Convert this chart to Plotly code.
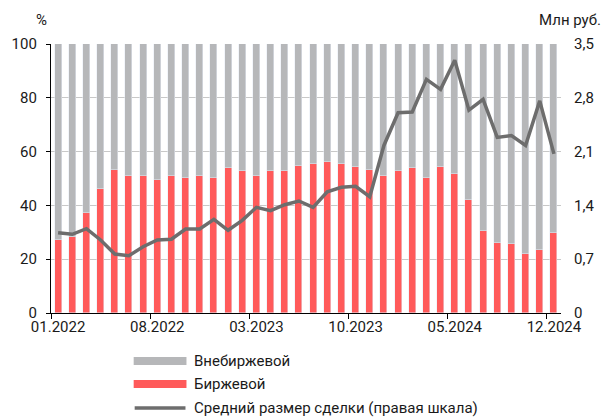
import plotly.graph_objects as go

months = [f"{m:02d}.{y}" for y in (2022, 2023, 2024) for m in range(1, 13)]

exchange = [27.1, 28.1, 37.3, 46.1, 53.2, 51.0, 51.0, 49.4, 50.9, 50.3, 51.0, 50.2,
            54.0, 52.8, 51.0, 52.8, 52.8, 54.8, 55.5, 56.2, 55.5, 54.3, 53.3, 51.0,
            52.9, 53.8, 50.3, 54.4, 51.6, 42.1, 30.6, 26.1, 25.8, 22.1, 23.6, 29.7]
otc = [round(100 - v, 1) for v in exchange]
avg_deal = [1.045, 1.024, 1.097, 0.95, 0.768, 0.746, 0.863, 0.95, 0.959, 1.093, 1.093, 1.219,
            1.076, 1.206, 1.375, 1.331, 1.409, 1.457, 1.375, 1.578, 1.635, 1.648, 1.513, 2.18,
            2.606, 2.615, 3.04, 2.91, 3.29, 2.64, 2.78, 2.285, 2.31, 2.18, 2.76, 2.07]

left_ticks = [0, 20, 40, 60, 80, 100]
right_ticks = [0, 0.7, 1.4, 2.1, 2.8, 3.5]
right_labels = ["0", "0,7", "1,4", "2,1", "2,8", "3,5"]
label_idx = [0, 7, 14, 21, 28, 35]

names = ["Внебиржевой", "Биржевой", "Средний размер сделки (правая шкала)"]
c_otc, c_exch, c_line = "#B6B7B9", "#FF5A5A", "#6D6D6D"

x = list(range(len(months)))
FONT = "Roboto"

W, H = 606, 420
L, R, T, B = 50, 44, 44, 107
PW, PH = W - L - R, H - T - B


def px_x(xp):
    return (xp - L) / PW


def px_y(yp):
    return (H - B - yp) / PH


fig = go.Figure()
fig.add_bar(x=x, y=exchange, name=names[1], marker_color=c_exch, width=0.5, showlegend=False)
fig.add_bar(x=x, y=otc, name=names[0], marker_color=c_otc, width=0.5, showlegend=False)
fig.add_scatter(x=x, y=avg_deal, yaxis="y2", mode="lines", name=names[2],
                line=dict(color=c_line, width=3.5), showlegend=False)

fig.update_layout(
    width=W, height=H,
    margin=dict(l=L, r=R, t=T, b=B),
    barmode="stack", bargap=0,
    plot_bgcolor="white", paper_bgcolor="white",
    font=dict(family=FONT, size=15, color="#1a1a1a"),
    xaxis=dict(range=[-0.5, 35.5], tickvals=label_idx, ticktext=[months[i] for i in label_idx],
               ticks="", showgrid=False, zeroline=False,
               showline=True, linecolor="#000", linewidth=1.2,
               minor=dict(tick0=-0.5, dtick=7, ticks="outside", ticklen=5, tickcolor="#000", showgrid=False),
               tickfont=dict(size=15)),
    yaxis=dict(range=[0, 100], tickvals=left_ticks, showgrid=True, gridcolor="#C8C8C8", gridwidth=1,
               zeroline=False, showline=True, linecolor="#000", linewidth=1.2,
               ticks="outside", ticklen=4, tickcolor="#000", ticklabelstandoff=6,
               tickfont=dict(size=15)),
    yaxis2=dict(range=[0, 3.5], overlaying="y", side="right", tickvals=right_ticks, ticktext=right_labels,
                showgrid=False, zeroline=False, showline=False, ticks="", ticklabelstandoff=12,
                tickfont=dict(size=15)),
)

fig.add_annotation(text="%", xref="paper", yref="paper", x=px_x(48), y=px_y(20),
                   xanchor="right", yanchor="middle", showarrow=False, font=dict(size=15))
fig.add_annotation(text="Млн руб.", xref="paper", yref="paper", x=px_x(571), y=px_y(20),
                   xanchor="center", yanchor="middle", showarrow=False, font=dict(size=15))

# custom legend (below the plot)
rows_y = [361, 384, 408]
for i, (nm, col) in enumerate(zip(names, [c_otc, c_exch, c_line])):
    if i < 2:
        fig.add_shape(type="rect", xref="paper", yref="paper",
                      x0=px_x(133), x1=px_x(186), y0=px_y(rows_y[i] - 4), y1=px_y(rows_y[i] + 4),
                      fillcolor=col, line_width=0)
    else:
        fig.add_shape(type="line", xref="paper", yref="paper",
                      x0=px_x(134), x1=px_x(185), y0=px_y(rows_y[i]), y1=px_y(rows_y[i]),
                      line=dict(color=col, width=3.5))
    fig.add_annotation(text=nm, xref="paper", yref="paper", x=px_x(192), y=px_y(rows_y[i]),
                       xanchor="left", yanchor="middle", showarrow=False, font=dict(size=15))

fig.write_html("out.html", config={"displayModeBar": False},
               post_script="document.body.style.margin='0';document.body.style.overflow='hidden';")
